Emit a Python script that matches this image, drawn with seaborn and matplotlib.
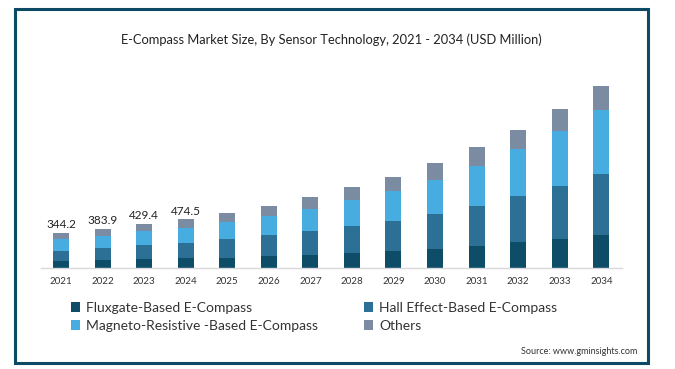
import numpy as np
import pandas as pd
import matplotlib.pyplot as plt
import seaborn as sns
from matplotlib.patches import Patch, Rectangle

years = ['2021', '2022', '2023', '2024', '2025', '2026', '2027',
         '2028', '2029', '2030', '2031', '2032', '2033', '2034']
fluxgate = [72.4, 77.6, 89.3, 96.8, 102.8, 119.3, 131.9,
            151.3, 164.9, 188.2, 220.2, 252.2, 285.2, 326.9]
hall_effect = [99.3, 117.8, 134.8, 151.1, 178.5, 200.8, 229.9,
               259.0, 297.8, 339.5, 385.1, 446.2, 517.0, 588.8]
magneto = [113.6, 121.1, 132.9, 145.3, 164.9, 190.1, 213.4,
           252.2, 291.0, 329.8, 390.9, 459.8, 533.5, 623.7]
others = [58.9, 67.4, 72.4, 81.3, 87.3, 97.0, 113.5,
          123.2, 135.8, 161.0, 177.5, 187.2, 210.5, 232.8]
labelled_years = 4

series = ['Fluxgate-Based E-Compass', 'Hall Effect-Based E-Compass',
          'Magneto-Resistive -Based E-Compass', 'Others']
colors = ['#0d4d68', '#2c7096', '#47ace0', '#7b8ba1']

df = pd.DataFrame({'year': years, series[0]: fluxgate, series[1]: hall_effect,
                   series[2]: magneto, series[3]: others})
cum = df[series].cumsum(axis=1)
totals = cum[series[-1]]

sns.set_style('white')
plt.rcParams['font.family'] = ['Lato', 'DejaVu Sans']

fig = plt.figure(figsize=(6.75, 3.69), dpi=100)
ax = fig.add_axes([41 / 675, (369 - 268.3) / 369, 580.7 / 675, 188.3 / 369])

# stacked bars: draw cumulative totals from the top segment down
for name, col in reversed(list(zip(series, colors))):
    sns.barplot(x=df['year'], y=cum[name], color=col, width=0.385,
                saturation=1, linewidth=0, ax=ax)

for i in range(labelled_years):
    ax.text(i, totals[i] + 25, f'{totals[i]:.1f}', ha='center', va='bottom',
            fontsize=8.5, color='#222222')

ax.set_xlim(-0.48, 13.49)
ax.set_ylim(0, 188.3 * 9.7)
ax.set_xlabel('')
ax.set_ylabel('')
ax.set_yticks([])
for s in ['top', 'right', 'left']:
    ax.spines[s].set_visible(False)
ax.spines['bottom'].set_color('#d9d9d9')
ax.spines['bottom'].set_linewidth(1)
ax.tick_params(axis='x', length=0, labelsize=7, colors='#333333', pad=6)

fig.text(331 / 675, 1 - 40 / 369,
         'E-Compass Market Size, By Sensor Technology, 2021 - 2034 (USD Million)',
         ha='center', va='center', fontsize=9.3, color='#222222')

handles = [Patch(facecolor=c, edgecolor='none') for c in colors]
order = [0, 2, 1, 3]
fig.legend([handles[i] for i in order], [series[i] for i in order],
           ncol=2, loc='upper left', bbox_to_anchor=(58 / 675, 1 - 289 / 369),
           frameon=False, fontsize=10, handlelength=0.7, handleheight=0.7,
           handletextpad=0.4, columnspacing=3.3, labelspacing=0.45,
           labelcolor='#333333')

fig.text(637 / 675, 1 - 351 / 369, 'Source: www.gminsights.com',
         ha='right', va='center', fontsize=6.5, color='#333333')

fig.patches.append(Rectangle((15 / 675, 1 - 363 / 369), 633 / 675, 354 / 369,
                             transform=fig.transFigure, fill=False,
                             edgecolor='#0e4a66', linewidth=2.2))

fig.savefig('out.png', dpi=100)
